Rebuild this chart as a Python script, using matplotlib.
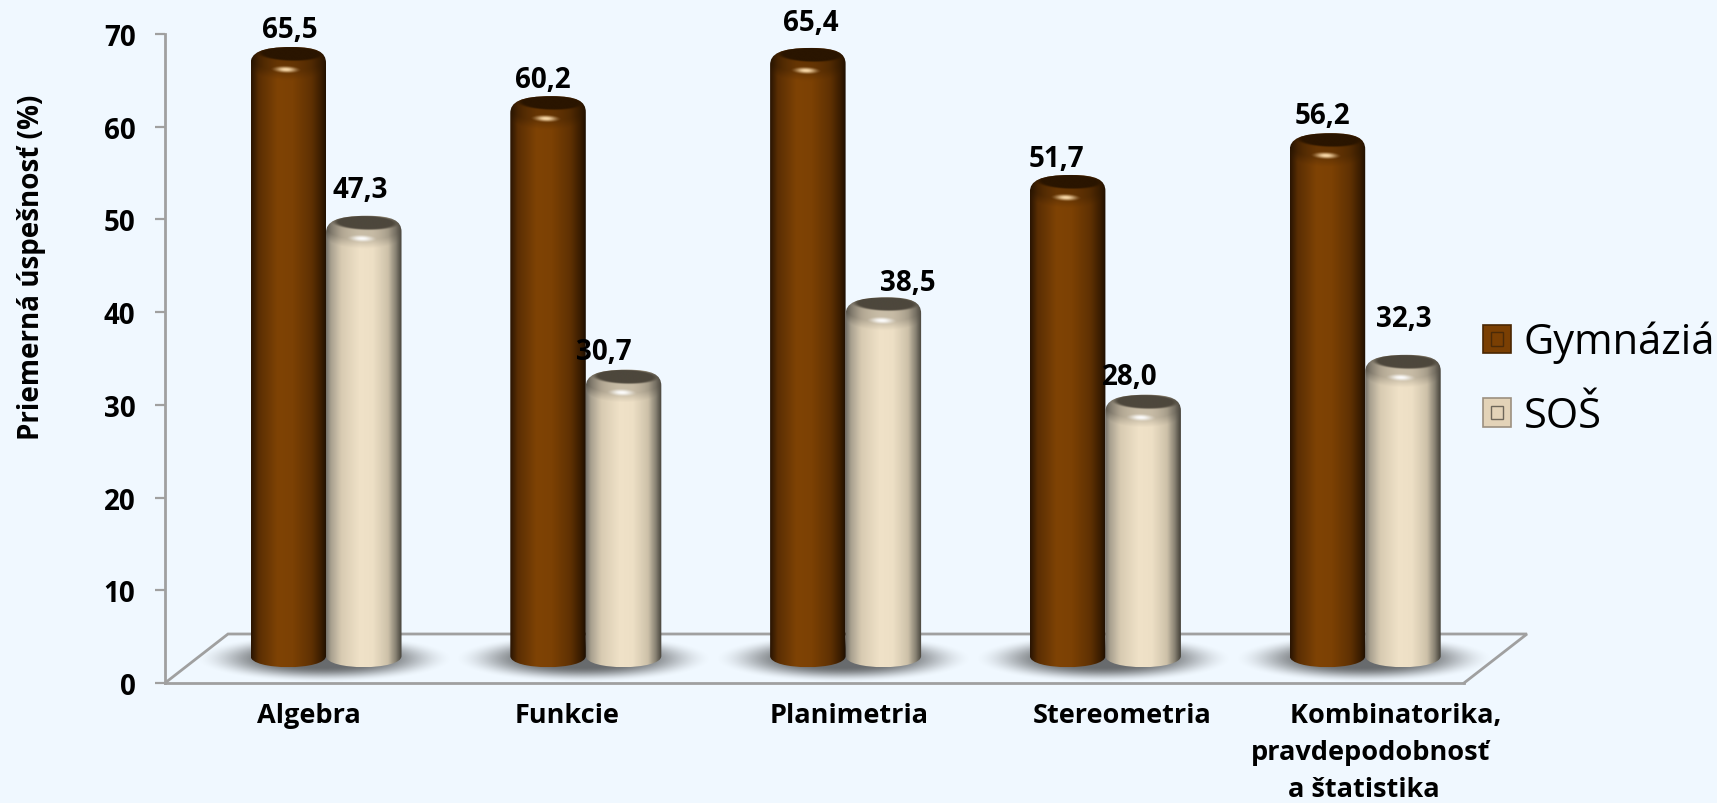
import numpy as np
import matplotlib
matplotlib.use("Agg")
import matplotlib.pyplot as plt
from matplotlib.path import Path
from matplotlib.patches import PathPatch, Patch, Rectangle
from matplotlib.legend_handler import HandlerBase
from matplotlib.colors import to_rgb

categories = ["Algebra", "Funkcie", "Planimetria", "Stereometria",
              "       Kombinatorika,\npravdepodobnosť\na štatistika  "]
gymnazia = [65.5, 60.2, 65.4, 51.7, 56.2]
sos = [47.3, 30.7, 38.5, 28.0, 32.3]
series_names = ["Gymnáziá", "SOŠ"]
yticks = [0, 10, 20, 30, 40, 50, 60, 70]

plt.rcParams["font.family"] = ["Open Sans", "DejaVu Sans"]
W, H = 1717, 804
BG = "#F0F8FF"
GRAY = "#A0A0A0"
AX_L, AX_R, AX_T, AX_B = 165, 1464, 35, 684

fig = plt.figure(figsize=(W / 100, H / 100), dpi=100, facecolor=BG)
ax = fig.add_axes([AX_L / W, 1 - AX_B / H, (AX_R - AX_L) / W, (AX_B - AX_T) / H], facecolor="none")
ax.set_xlim(-0.5, 4.5)
ax.set_ylim(0, 70)
ax.set_autoscale_on(False)
PX = 5 / (AX_R - AX_L)   # data units per pixel, x
PY = 70 / (AX_B - AX_T)  # data units per pixel, y


def dx(p):
    return p * PX


def dy(p):
    return p * PY


def xpx(p):
    return -0.5 + (p - AX_L) * PX


def ypx(p):
    return (AX_B - p) * PY


GYM = dict(x=[0, .10, .35, .55, .8, .93, 1],
           c=["#2a1502", "#5a2e03", "#7f4305", "#7c4104", "#5f3103", "#3a1d01", "#1e0f00"],
           cap="#2a1500", hl="#ffe0b0")
SOS = dict(x=[0, .06, .2, .45, .62, .82, .93, 1],
           c=["#77736a", "#a8a08f", "#d8cbb2", "#f0e2c8", "#eddfc5", "#cdc1a9", "#837d6f", "#45423a"],
           cap="#4d473c", hl="#ffffff")
BAR_W = 75.5
DEPTH = 1.8        # value units of 3-D floor offset
BOTTOM_PX = 657
PAIR_SHIFT = xpx(326)


def profile(style, n):
    t = np.linspace(0, 1, n)
    cols = np.array([to_rgb(c) for c in style["c"]])
    return np.stack([np.interp(t, style["x"], cols[:, k]) for k in range(3)], axis=1)


def soft(cx, cy, a, b, color, alpha, edge, z, clip=None, tilt=0.0):
    nx, ny = 160, 100
    u = np.linspace(-1.05, 1.05, nx)
    v = np.linspace(-1.05, 1.05, ny)
    uu, vv = np.meshgrid(u, v)
    vv2 = vv + tilt * uu
    r = np.sqrt(uu ** 2 + vv2 ** 2)
    s = np.clip((1 - r) / edge, 0, 1)
    s = s * s * (3 - 2 * s)
    img = np.zeros((ny, nx, 4))
    img[..., :3] = to_rgb(color)
    img[..., 3] = s * alpha
    im = ax.imshow(img, extent=(cx - dx(a) * 1.05, cx + dx(a) * 1.05, cy - dy(b) * 1.05, cy + dy(b) * 1.05),
                   origin="lower", aspect="auto", zorder=z, interpolation="bilinear")
    im.set_clip_path(clip if clip is not None else ax.patch)
    if clip is None:
        im.set_clip_on(False)
    return im


def cylinder(center, value, style, z):
    yc = value + DEPTH          # centre of the top face, data units
    L, R = center - dx(BAR_W / 2), center + dx(BAR_W / 2)
    yb = ypx(BOTTOM_PX)
    arc = dy(11)
    w = R - L
    verts = [(L, yb), (L, yc + dy(-5)),
             (L, yc + dy(6)), (L + .13 * w, yc + dy(12)), (center + .05 * w, yc + dy(12)),
             (R - .12 * w, yc + dy(12)), (R, yc + dy(7)), (R, yc + dy(-4)),
             (R, yb),
             (R, yb - arc * 1.35), (L, yb - arc * 1.35), (L, yb), (L, yb)]
    codes = [Path.MOVETO, Path.LINETO,
             Path.CURVE4, Path.CURVE4, Path.CURVE4,
             Path.CURVE4, Path.CURVE4, Path.CURVE4,
             Path.LINETO,
             Path.CURVE4, Path.CURVE4, Path.CURVE4, Path.CLOSEPOLY]
    patch = PathPatch(Path(verts, codes), facecolor="none", edgecolor="none", zorder=z)
    ax.add_patch(patch)
    top = yc + dy(13)
    bottom = yb - arc * 1.1
    ny = 300
    nx = 90
    prof = profile(style, nx)
    img = np.repeat(prof[None, :, :], ny, axis=0)
    ys = np.linspace(top, bottom, ny)
    dist = ((yc - ys) / PY)[:, None]        # px below the top face centre
    u = np.linspace(-1, 1, nx)[None, :]
    boundary = 4 + 12 * np.sqrt(np.clip(1 - u ** 2, 0, 1))   # lower edge of the bevel follows the cylinder front
    bevel = np.clip((boundary + 5 - dist) / 9, 0, 1)[:, :, None]
    flat = prof.mean(axis=0, keepdims=True)
    edge_dark = (1 - 0.35 * np.abs(u) ** 3)[:, :, None]
    mixed = (img * 0.55 + flat[:, None, :] * 0.45) * edge_dark * 0.9
    img = img * (1 - bevel) + mixed * bevel
    im = ax.imshow(np.clip(img, 0, 1), extent=(L, R, bottom, top), origin="upper", aspect="auto",
                   zorder=z, interpolation="bilinear")
    im.set_clip_path(patch)
    soft(center + dx(2), yc + dy(5.5), BAR_W * .47, 8, style["cap"], 1.0, 0.25, z + .1, clip=patch, tilt=0.12)
    soft(center - dx(2), yc - dy(11), 16, 4, style["hl"], 0.95, 0.95, z + .2, clip=patch, tilt=0.12)


# floor
depth_x = dx(63)
back = ypx(635)
ax.plot([-0.5, -0.5 + depth_x, 4.5 + depth_x, 4.5], [0, back, back, 0], color=GRAY, lw=2.0,
        clip_on=False, zorder=1, solid_joinstyle="miter")

# bars
for i, (g, s) in enumerate(zip(gymnazia, sos)):
    pc = i + PAIR_SHIFT
    soft(pc - dx(2), ypx(660), 130, 24, "#505254", 0.85, 0.65, 2)
    cylinder(pc - dx(BAR_W / 2), g, GYM, 3)
    cylinder(pc + dx(BAR_W / 2), s, SOS, 4)

# value labels (hand-placed in the source, offsets in px)
gym_off = [(1, 16), (-5, 15), (3, 23), (-10, 15), (-5, 16)]
sos_off = [(-3, 24), (-18, 17), (22, 14), (-12, 17), (1, 33)]
for i, (g, s) in enumerate(zip(gymnazia, sos)):
    pc = i + PAIR_SHIFT
    for v, off, sign in ((g, gym_off[i], -1), (s, sos_off[i], 1)):
        ax.annotate(f"{v:.1f}".replace(".", ","),
                    xy=(pc + sign * dx(BAR_W / 2), v + DEPTH + dy(12)),
                    xytext=(off[0] * 1.095, off[1] * 1.095), textcoords="offset pixels",
                    ha="center", va="center", fontsize=20, fontweight="bold", color="black",
                    zorder=6, annotation_clip=False)

# axes
for side in ("top", "right"):
    ax.spines[side].set_visible(False)
for side in ("left", "bottom"):
    ax.spines[side].set_color(GRAY)
    ax.spines[side].set_linewidth(2.0)
ax.set_yticks(yticks)
ax.set_yticklabels([str(t) for t in yticks], fontsize=20, fontweight="bold")
ax.tick_params(axis="y", length=7.2, width=1.6, color=GRAY, pad=14)
label_px = [309, 567, 849, 1122, 1371]
ax.set_xticks([xpx(p) for p in label_px])
ax.set_xticklabels(categories, fontsize=19.5, fontweight="bold", linespacing=1.55)
ax.tick_params(axis="x", length=0, pad=14)

fig.text(32 / W, 1 - 267 / H, "Priemerná úspešnosť (%)", rotation=90, ha="center", va="center",
         fontsize=20, fontweight="bold")


class SquareHandler(HandlerBase):
    def create_artists(self, legend, orig, xd, yd, width, height, fontsize, trans):
        fc, ec, ic = orig.get_facecolor(), orig.get_edgecolor(), orig.inner_color
        outer = Rectangle((xd * -1, -yd), width, height, facecolor=fc, edgecolor=ec, lw=1.2, transform=trans)
        m = width * 0.27
        inner = Rectangle((-xd + m, -yd + m), width - 2 * m, height - 2 * m, facecolor="none",
                          edgecolor=ic, lw=1.0, transform=trans)
        return [outer, inner]


h1 = Patch(facecolor="#7A3F03", edgecolor="#4a2602")
h1.inner_color = "#4a2a08"
h2 = Patch(facecolor="#E3D3B8", edgecolor="#9c9080")
h2.inner_color = "#6e675a"
fig.legend([h1, h2], series_names, loc="upper left", bbox_to_anchor=(1483 / W, 1 - 322 / H),
           frameon=False, fontsize=30, borderpad=0, borderaxespad=0, handlelength=0.67,
           handleheight=0.67, handletextpad=0.3, labelspacing=0.755,
           handler_map={Patch: SquareHandler()})

fig.savefig("out.png", dpi=100, facecolor=BG)
